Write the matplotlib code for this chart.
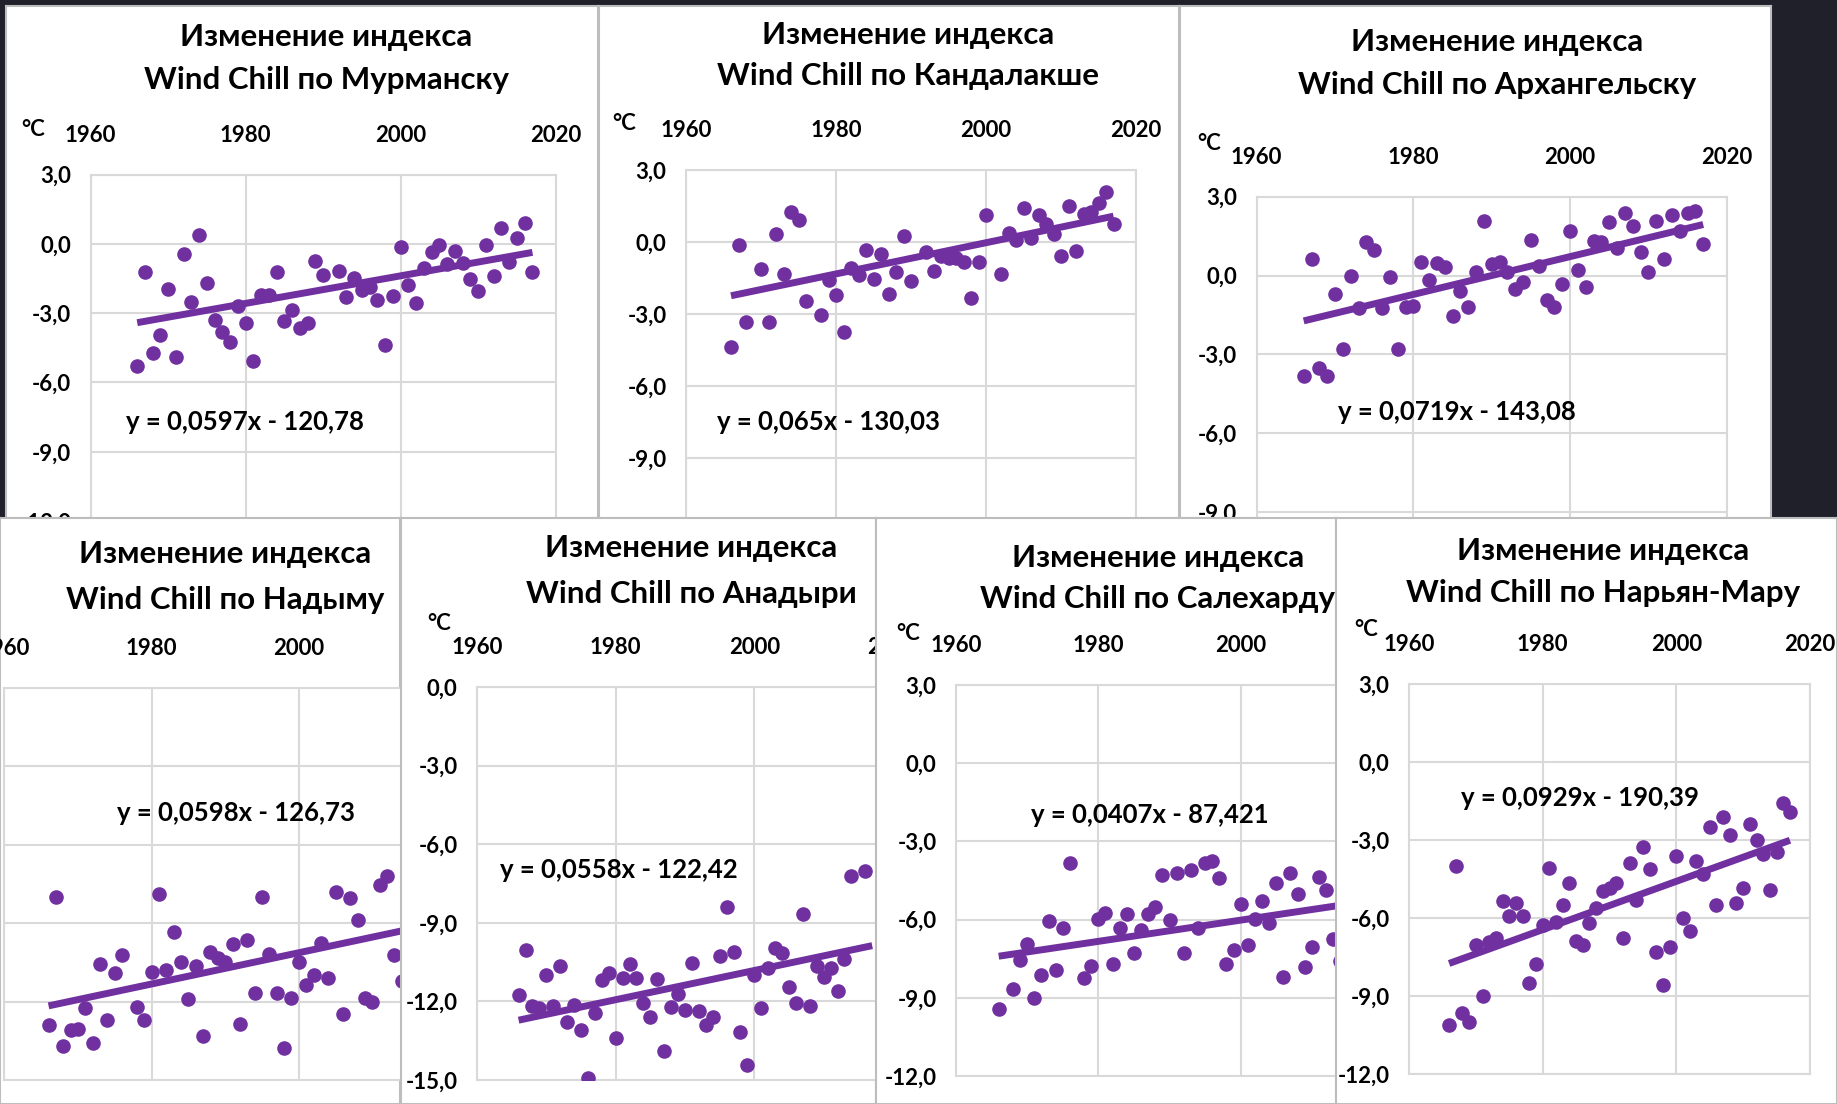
import numpy as np
import matplotlib.pyplot as plt
from matplotlib.ticker import FuncFormatter

W, H = 1837, 1104
nan = np.nan

# years shown in every chart (nan = not visible)
years = np.arange(1966, 2018)

murmansk = [-5.28, -1.23, -4.73, -3.94, -1.95, -4.88, -0.43, -2.53, 0.38, -1.67,
            -3.28, -3.81, -4.23, -2.67, -3.43, -5.09, -2.21, -2.21, -1.23, -3.33,
            -2.86, -3.65, -3.43, -0.72, -1.34, nan, -1.15, -2.31, -1.49, -1.99,
            -1.85, -2.42, -4.37, -2.24, -0.12, -1.77, -2.54, -1.02, -0.36, -0.04,
            -0.88, -0.29, -0.81, -1.52, -2.02, -0.04, -1.37, 0.68, -0.79, 0.25,
            0.92, -1.23]
kandalaksha = [-4.36, -0.14, -3.35, nan, -1.13, -3.35, 0.35, -1.34, 1.24, 0.9,
               -2.46, nan, -3.04, -1.59, -2.21, -3.76, -1.07, -1.36, -0.32, -1.56,
               -0.48, -2.17, -1.27, 0.24, -1.63, nan, -0.41, -1.2, -0.59, -0.65,
               -0.65, -0.83, -2.35, -0.83, 1.11, nan, -1.34, 0.37, 0.1, 1.41,
               0.18, 1.11, 0.73, 0.35, -0.58, 1.52, -0.37, 1.18, 1.27, 1.63,
               2.07, 0.76]
arkhangelsk = [-3.82, 0.62, -3.53, -3.82, -0.7, -2.8, -0.01, -1.24, 1.26, 0.98,
               -1.24, -0.06, -2.8, -1.18, -1.14, 0.51, -0.16, 0.47, 0.32, -1.54,
               -0.58, -1.18, 0.15, 2.09, 0.44, 0.53, 0.15, -0.52, -0.23, 1.36,
               0.38, -0.93, -1.18, -0.32, 1.68, 0.22, -0.42, 1.32, 1.29, 2.03,
               1.04, 2.37, 1.87, 0.88, 0.15, 2.08, 0.62, 2.31, 1.68, 2.37,
               2.47, 1.21]
nadym = [-9.9, -5.0, -10.68, -10.1, -10.04, -9.23, -10.58, -7.55, -9.71, -7.9,
         -7.2, nan, -9.2, -9.71, -7.85, -4.9, -7.8, -6.33, -7.5, -8.9,
         -7.65, -10.33, -7.1, -7.33, -7.5, -6.8, -9.85, -6.65, -8.67, -5.0,
         -7.18, -8.67, -10.77, -8.85, -7.5, -8.36, -8.0, -6.75, -8.08, -4.82,
         -9.46, -5.05, -5.88, -8.86, -9.02, -4.53, -4.18, -7.2, -8.2, nan,
         nan, nan]
anadyr = [-11.75, -10.04, -12.16, -12.25, -10.99, -12.19, -10.65, -12.8, -12.13, -13.09,
          -14.94, -12.45, -11.18, -10.9, -13.38, -11.11, -10.58, -11.11, -12.06, -12.6,
          -11.15, -13.9, -12.2, -11.7, -12.33, -10.52, -12.35, -12.89, -12.6, -10.27,
          -8.41, -10.1, -13.17, -14.43, -10.99, -12.25, -10.71, -9.95, -10.14, -11.44,
          -12.08, -8.66, -12.16, -10.65, -11.05, -10.73, -11.59, -10.39, -7.23, nan,
          -7.01, nan]
salekhard = [-9.43, nan, -8.65, -7.54, -6.93, -9.01, -8.13, -6.06, -7.92, -6.32,
             -3.84, nan, -8.24, -7.78, -5.96, -5.74, -7.69, -6.32, -5.77, -7.3,
             -6.38, -5.8, -5.51, -4.29, -6.02, -4.2, -7.3, -4.1, -6.32, -3.81,
             -3.76, -4.39, -7.7, -7.15, -5.41, -6.96, -5.99, -5.29, -6.13, -4.61,
             -8.21, -4.2, -5.01, -7.81, -7.05, -4.35, -4.87, -6.76, -7.6, nan,
             nan, nan]
naryan_mar = [-10.1, -3.99, -9.67, -10.0, -7.03, -9.01, -6.91, -6.78, -5.33, -5.94,
              -5.43, -5.94, -8.51, -7.75, -6.28, -4.06, -6.16, -5.51, -4.64, -6.88,
              -7.03, -6.19, -5.61, -4.97, -4.83, -4.64, -6.77, -3.87, -5.29, -3.26,
              -4.1, -7.29, -8.59, -7.1, -3.62, -5.99, -6.49, -3.81, -4.3, -2.51,
              -5.51, -2.13, -2.8, -5.43, -4.83, -2.39, -3.0, -3.52, -4.93, -3.48,
              -1.59, -1.91]

series = [murmansk, kandalaksha, arkhangelsk, nadym, anadyr, salekhard, naryan_mar]
cities = ["Мурманску", "Кандалакше", "Архангельску", "Надыму", "Анадыри",
          "Салехарду", "Нарьян-Мару"]
slopes = [0.0597, 0.065, 0.0719, 0.0598, 0.0558, 0.0407, 0.0929]
intercepts = [-120.78, -130.03, -143.08, -126.73, -122.42, -87.421, -190.39]
ylims = [(-12, 3), (-12, 3), (-12, 3), (-12, 3), (-15, 0), (-12, 3), (-12, 3)]
year_ticks = [1960, 1980, 2000, 2020]

# where each screenshot sits on the slide (pixels)
panels = [(6, 6, 598, 518), (599, 6, 1179, 518), (1180, 6, 1771, 518),
          (0, 518, 400, 1104), (401, 518, 876, 1104), (876, 518, 1336, 1104),
          (1336, 518, 1837, 1104)]
plots = [(90.7, 174.7, 555.7, 521), (686, 170, 1136, 530), (1256.7, 196.7, 1726.7, 591),
         (4.4, 688, 446, 1080), (477, 687, 893, 1080), (956, 685, 1383, 1076),
         (1409, 684, 1810, 1074)]
titles_xy = [(326, 37, 80), (908, 35, 76), (1497, 42, 85), (225, 554, 600),
             (691, 548, 594), (1158, 558, 599), (1603, 551, 593)]
degc_xy = [(33, 129), (624, 123), (1209, 143), None, (439, 623), (908, 634), (1366, 630)]
eq_xy = [(1964.6, -7.7), (1964.1, -7.5), (1970.4, -5.2), (1975.3, -1.8),
         (1963.3, -7.0), (1970.5, -2.0), (1967.8, -1.4)]

PURPLE = '#7030A0'
GRID = '#d9d9d9'
BG = '#20202a'

plt.rcParams['font.family'] = ['Lato', 'DejaVu Sans']
plt.rcParams['font.weight'] = 'bold'


def px_rect(x0, y0, x1, y1):
    return [x0 / W, 1 - y1 / H, (x1 - x0) / W, (y1 - y0) / H]


comma = FuncFormatter(lambda v, p: f"{v:.1f}".replace('.', ','))

fig = plt.figure(figsize=(W / 100, H / 100), dpi=100)
fig.patch.set_facecolor(BG)

for i in range(7):
    # white background of the screenshot
    x0, y0, x1, y1 = panels[i]
    pax = fig.add_axes(px_rect(x0, y0, x1, y1))
    pax.set_zorder(2 * i)
    pax.set_xlim(x0, x1)
    pax.set_ylim(y1, y0)
    pax.set_xticks([])
    pax.set_yticks([])
    pax.set_facecolor('white')
    for s in pax.spines.values():
        s.set_color('#bdbdbd')
        s.set_linewidth(1.5)

    tx, ty1, ty2 = titles_xy[i]
    pax.text(tx, ty1, "Изменение индекса", ha='center', va='center', fontsize=22.5)
    pax.text(tx, ty2, "Wind Chill по " + cities[i], ha='center', va='center', fontsize=22.5)
    if degc_xy[i] is not None:
        pax.text(degc_xy[i][0], degc_xy[i][1], "°C", ha='center', va='center', fontsize=16)

    # the chart itself
    ax = fig.add_axes(px_rect(*plots[i]))
    ax.set_zorder(2 * i + 1)
    ax.set_facecolor('white')
    vals = np.array(series[i], dtype=float)
    ax.plot(years, vals, 'o', color=PURPLE, markersize=10.5, markeredgewidth=0, zorder=3)
    trend_x = np.array([years[0], years[-1]])
    ax.plot(trend_x, slopes[i] * trend_x + intercepts[i], color=PURPLE, lw=5,
            solid_capstyle='butt', zorder=4)

    ax.set_xlim(1960, 2020)
    ax.set_ylim(*ylims[i])
    ax.set_xticks(year_ticks)
    ax.set_yticks(np.arange(ylims[i][0], ylims[i][1] + 1, 3))
    ax.yaxis.set_major_formatter(comma)
    ax.xaxis.tick_top()
    ax.tick_params(axis='x', length=0, labelsize=16, pad=21)
    ax.tick_params(axis='y', length=0, labelsize=16, pad=14)
    ax.grid(True, color=GRID, lw=1.5)
    ax.set_axisbelow(True)
    for s in ax.spines.values():
        s.set_color(GRID)
        s.set_linewidth(1.5)

    eq = f"y = {slopes[i]}x - {abs(intercepts[i])}".replace('.', ',')
    ax.text(eq_xy[i][0], eq_xy[i][1], eq, ha='left', va='center', fontsize=18.5, zorder=5)

fig.savefig('out.png', dpi=100, facecolor=BG)
